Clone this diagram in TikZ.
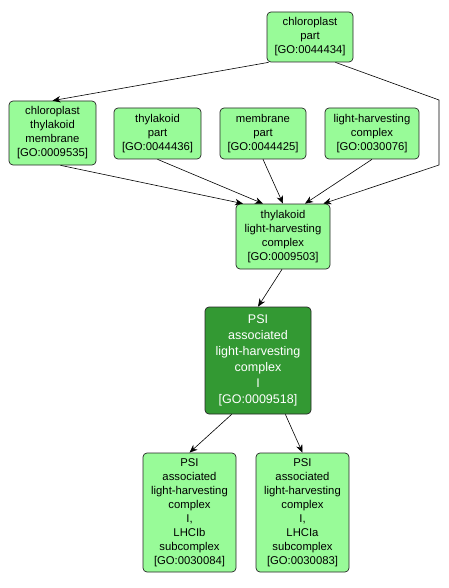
\documentclass[tikz,border=0pt]{standalone}
\usepackage{fontspec}
\setmainfont{Liberation Sans}
\usetikzlibrary{arrows.meta}
\definecolor{golight}{RGB}{152,251,152}
\definecolor{godark}{RGB}{51,153,51}
\tikzset{gonode/.style={draw=black!85, fill=golight, rounded corners=4pt, line width=0.7pt, align=center, inner sep=0pt,
    font=\fontsize{11.3}{14}\selectfont}}
\tikzset{focusnode/.style={gonode, fill=godark, text=white, font=\fontsize{12.5}{16}\selectfont}}
\tikzset{isa/.style={line width=0.6pt, -{Stealth[length=8pt,width=6.5pt,inset=2.5pt]}}}

\begin{document}
\begin{tikzpicture}[x=1pt, y=-1pt]
\useasboundingbox (0,0) rectangle (449,588);
\node (cp) [gonode, minimum width=86pt, minimum height=50pt] at (310,37) {chloroplast\\part\\{[GO:0044434]}};
\node (ctm) [gonode, minimum width=87pt, minimum height=64pt] at (52.5,133) {chloroplast\\thylakoid\\membrane\\{[GO:0009535]}};
\node (tp) [gonode, minimum width=87pt, minimum height=51pt] at (157.5,133.5) {thylakoid\\part\\{[GO:0044436]}};
\node (mp) [gonode, minimum width=86pt, minimum height=51pt] at (263,133.5) {membrane\\part\\{[GO:0044425]}};
\node (lhc) [gonode, minimum width=94pt, minimum height=51pt] at (372,133.5) {light-harvesting\\complex\\{[GO:0030076]}};
\node (tlhc) [gonode, minimum width=94pt, minimum height=65pt] at (283,236.5) {thylakoid\\light-harvesting\\complex\\{[GO:0009503]}};
\node (psi) [focusnode, minimum width=106pt, minimum height=107pt] at (258,360.5) {PSI\\associated\\light-harvesting\\complex\\I\\{[GO:0009518]}};
\node (lhcib) [gonode, minimum width=93pt, minimum height=119pt] at (189.5,512.5) {PSI\\associated\\light-harvesting\\complex\\I,\\LHCIb\\subcomplex\\{[GO:0030084]}};
\node (lhcia) [gonode, minimum width=93pt, minimum height=119pt] at (302.5,512.5) {PSI\\associated\\light-harvesting\\complex\\I,\\LHCIa\\subcomplex\\{[GO:0030083]}};

% bend of the long edge on the right
\coordinate (b1) at (439,100);
\coordinate (b2) at (439,165);

\draw[isa] ([xshift=2pt]cp.south west) to (ctm.north);
\draw[isa] ([xshift=-18pt]cp.south east) -- (b1) -- (b2) -- ([xshift=-7pt]tlhc.north east);
\draw[isa] ([xshift=8pt]ctm.south) to ([xshift=-40pt]tlhc.north);
\draw[isa] (tp.south) to ([xshift=-20pt]tlhc.north);
\draw[isa] (mp.south) to (tlhc.north);
\draw[isa] (lhc.south) to ([xshift=22pt]tlhc.north);
\draw[isa] ([xshift=-1pt]tlhc.south) to (psi.north);
\draw[isa] ([xshift=27pt]psi.south west) to (lhcib.north);
\draw[isa] ([xshift=-26pt]psi.south east) to (lhcia.north);
\end{tikzpicture}
\end{document}
